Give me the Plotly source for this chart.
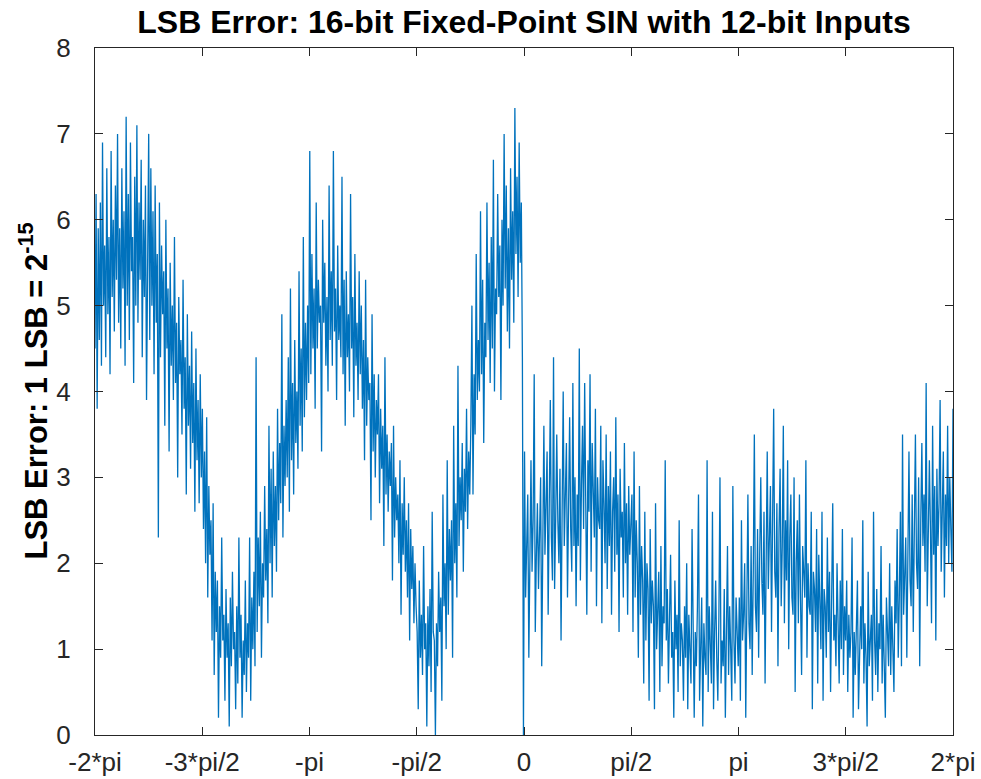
import numpy as np
import plotly.graph_objects as go

# LSB error, in order from -2*pi to 2*pi (pi/4 per block)
err_a = [4.5, 6.3, 3.8, 5.9, 4.6, 6.2, 4.3, 6.9, 5.0, 5.7, 4.4, 6.6, 4.9, 5.8, 4.2, 6.8, 5.1, 6.0, 4.7, 6.4,
         5.3, 7.0, 4.8, 5.9, 4.5, 6.6, 5.2, 6.1, 4.3, 7.2, 5.0, 6.3, 4.6, 6.9, 5.4, 5.8, 4.1, 6.5, 5.0, 7.1,
         4.8, 6.2, 5.3, 6.7, 4.4, 6.0, 5.1, 6.4, 3.9, 6.1]
err_b = [7.0, 4.6, 6.6, 5.0, 6.1, 4.2, 6.4, 4.8, 5.6, 2.3, 6.2, 4.4, 5.7, 4.9, 5.4, 3.6, 6.0, 4.5, 5.2, 3.3,
         5.5, 4.3, 5.0, 3.9, 5.8, 4.1, 4.8, 3.0, 5.1, 4.2, 4.6, 3.5, 5.3, 3.8, 4.4, 2.8, 4.9, 3.6, 4.3, 3.1,
         4.7, 3.4, 4.1, 2.6, 4.5, 3.2, 3.9, 2.7, 4.2, 3.0]
err_c = [3.8, 2.4, 3.3, 2.0, 3.7, 1.6, 2.9, 2.1, 2.5, 1.1, 2.7, 0.7, 1.9, 1.2, 1.8, 0.2, 1.5, 0.9, 2.3, 1.1,
         1.4, 0.4, 1.7, 0.9, 1.3, 0.1, 1.6, 0.8, 1.9, 1.0, 1.2, 0.3, 1.5, 0.6, 2.3, 0.9, 1.4, 0.2, 1.1, 0.7,
         1.8, 0.5, 1.3, 0.9, 2.3, 0.4, 1.6, 1.0, 1.9, 0.8]
err_d = [4.4, 1.2, 2.3, 1.5, 2.6, 0.9, 2.0, 1.6, 2.9, 1.8, 2.4, 1.3, 3.6, 2.0, 3.1, 1.6, 3.3, 2.2, 2.9, 1.9,
         3.8, 2.5, 3.4, 2.7, 4.9, 2.3, 3.6, 2.9, 3.9, 3.0, 4.4, 2.6, 5.2, 3.2, 4.1, 2.8, 4.6, 3.4, 4.0, 3.1,
         5.4, 3.6, 4.5, 3.3, 5.8, 3.7, 4.8, 3.9, 5.0, 4.1]
err_e = [6.8, 4.2, 5.6, 4.5, 5.2, 3.8, 6.2, 4.5, 5.3, 4.8, 5.0, 3.3, 6.0, 4.8, 5.5, 4.3, 5.1, 4.0, 6.4, 4.6,
         5.4, 4.3, 6.8, 4.7, 5.2, 3.9, 5.7, 4.6, 5.0, 4.4, 6.5, 4.2, 5.3, 3.6, 5.4, 4.4, 4.9, 4.0, 6.3, 4.5,
         5.1, 3.7, 5.6, 4.3, 4.8, 3.9, 5.4, 4.2, 5.0, 3.8]
err_f = [4.6, 3.2, 5.3, 3.6, 4.4, 3.9, 4.1, 2.5, 4.9, 3.3, 4.2, 3.0, 3.9, 3.5, 4.2, 2.7, 3.8, 3.1, 3.6, 2.2,
         4.4, 2.8, 3.5, 2.6, 3.3, 2.9, 3.4, 1.8, 3.6, 2.3, 3.0, 2.5, 2.8, 2.0, 3.2, 1.4, 2.7, 2.1, 3.0, 1.9,
         2.5, 1.6, 2.7, 1.1, 2.4, 1.7, 2.2, 1.3, 2.0, 1.5]
err_g = [1.2, 0.3, 1.8, 0.9, 1.4, 0.7, 2.2, 1.0, 1.3, 0.1, 1.5, 0.8, 1.7, 0.5, 2.6, 1.2, 1.1, 0.0, 1.3, 0.8,
         1.9, 1.2, 1.6, 0.4, 2.8, 1.5, 2.0, 1.0, 3.2, 1.4, 2.4, 1.8, 2.5, 0.9, 3.6, 2.0, 2.7, 1.6, 4.3, 2.2,
         3.0, 2.5, 3.4, 1.9, 3.1, 2.6, 3.8, 2.4, 3.3, 2.8]
err_h = [3.6, 5.0, 2.8, 4.2, 3.5, 5.6, 3.9, 4.6, 4.0, 6.1, 4.2, 5.3, 3.4, 4.8, 4.4, 6.2, 4.6, 5.5, 4.1, 5.8,
         4.5, 6.7, 4.0, 5.2, 4.9, 6.3, 5.1, 5.7, 3.9, 6.0, 5.0, 7.0, 5.2, 6.4, 4.7, 5.9, 4.5, 6.6, 5.3, 6.1,
         4.8, 7.3, 5.6, 6.5, 5.1, 6.9, 5.5, 6.2, 4.4, 0.0]
err_i = [3.3, 1.6, 2.4, 2.8, 0.9, 2.2, 3.2, 1.9, 2.5, 4.2, 1.2, 2.1, 2.7, 1.7, 2.3, 3.0, 0.8, 2.0, 3.6, 2.1,
         2.6, 3.3, 1.4, 2.4, 3.9, 2.3, 1.8, 4.4, 1.7, 2.5, 3.5, 2.5, 2.0, 3.1, 1.1, 2.6, 4.0, 2.2, 2.9, 3.4,
         1.6, 2.7, 3.7, 2.4, 1.9, 4.1, 2.2, 3.0, 1.5, 2.8]
err_j = [2.2, 4.5, 1.8, 2.9, 3.6, 2.4, 4.1, 2.7, 1.4, 3.2, 2.6, 4.2, 1.9, 3.4, 2.8, 2.3, 3.8, 1.5, 3.0, 2.5,
         2.4, 3.6, 1.3, 3.2, 2.7, 2.0, 3.5, 1.7, 2.9, 2.2, 3.3, 1.4, 2.6, 3.0, 1.9, 3.7, 2.1, 2.8, 1.2, 3.1,
         2.3, 2.6, 1.6, 3.4, 2.0, 2.7, 1.4, 2.9, 2.1, 2.4]
err_k = [2.8, 1.2, 3.3, 1.6, 2.5, 2.0, 0.9, 2.9, 1.4, 2.2, 1.8, 0.6, 2.6, 1.1, 2.0, 1.7, 0.4, 2.4, 1.3, 1.8,
         1.5, 0.3, 2.7, 1.0, 1.6, 1.9, 0.5, 2.2, 0.8, 1.5, 1.3, 3.2, 1.1, 1.7, 0.6, 1.4, 2.1, 0.9, 1.2, 0.2,
         1.8, 1.0, 1.4, 0.5, 2.5, 0.8, 1.3, 1.1, 0.4, 1.5]
err_l = [0.9, 2.0, 0.3, 1.4, 0.8, 0.6, 2.4, 1.0, 0.2, 1.2, 0.8, 1.5, 2.8, 0.4, 1.1, 1.6, 0.1, 1.3, 0.9, 0.7,
         3.2, 0.5, 1.5, 1.0, 0.6, 2.6, 0.3, 1.2, 1.8, 0.9, 0.4, 1.4, 3.0, 0.6, 1.1, 0.8, 1.7, 0.2, 1.3, 2.2,
         0.7, 1.5, 1.0, 0.4, 2.9, 1.1, 0.6, 1.6, 1.2, 0.8]
err_m = [1.6, 0.4, 2.5, 1.1, 1.4, 2.0, 0.2, 1.7, 2.8, 1.3, 1.0, 2.2, 0.7, 1.9, 3.5, 1.5, 1.2, 2.4, 0.9, 2.1,
         3.0, 1.8, 1.4, 2.6, 0.6, 2.0, 3.3, 1.7, 2.3, 2.9, 1.2, 2.2, 3.8, 1.9, 1.6, 2.7, 0.8, 2.4, 3.1, 1.5,
         2.2, 3.6, 1.3, 2.5, 1.8, 3.2, 1.0, 2.3, 2.8, 1.6]
err_n = [1.4, 3.0, 0.5, 2.0, 2.5, 1.3, 2.8, 1.6, 0.7, 2.2, 1.8, 1.6, 3.2, 0.9, 2.0, 1.5, 1.4, 2.6, 0.3, 1.9,
         1.7, 1.2, 2.4, 0.6, 2.1, 1.4, 1.0, 2.6, 0.4, 1.7, 1.5, 0.9, 2.3, 1.2, 1.9, 0.5, 1.6, 2.7, 1.1, 1.4,
         0.8, 2.0, 1.3, 0.6, 1.8, 1.0, 2.4, 0.7, 1.5, 1.1]
err_o = [1.8, 0.5, 1.4, 0.9, 1.2, 2.3, 0.2, 1.2, 0.7, 1.5, 1.8, 0.3, 1.0, 1.5, 1.0, 2.5, 0.6, 1.3, 0.9, 0.1,
         1.9, 0.8, 1.1, 1.4, 0.4, 2.6, 1.1, 0.7, 1.7, 0.5, 1.3, 1.0, 2.2, 0.6, 1.4, 0.9, 0.2, 1.6, 1.2, 0.8,
         2.0, 0.7, 1.5, 1.1, 0.5, 1.8, 1.3, 2.4, 0.9, 1.6]
err_p = [2.6, 0.8, 3.5, 1.4, 2.0, 2.3, 0.9, 1.8, 3.3, 1.8, 1.5, 2.8, 1.2, 2.4, 3.5, 2.0, 1.7, 3.0, 0.8, 2.5,
         3.4, 2.2, 2.8, 1.9, 4.1, 1.5, 2.6, 3.2, 2.4, 1.3, 3.6, 2.1, 2.9, 1.1, 3.1, 2.2, 2.7, 3.9, 1.9, 2.5,
         3.3, 1.6, 2.8, 2.2, 3.6, 2.0, 3.0, 2.4, 1.9, 3.8]

tick_vals = [-2*np.pi, -1.5*np.pi, -np.pi, -0.5*np.pi, 0, 0.5*np.pi, np.pi, 1.5*np.pi, 2*np.pi]
tick_text = ['-2*pi', '-3*pi/2', '-pi', '-pi/2', '0', 'pi/2', 'pi', '3*pi/2', '2*pi']

err = (err_a + err_b + err_c + err_d + err_e + err_f + err_g + err_h +
       err_i + err_j + err_k + err_l + err_m + err_n + err_o + err_p)
x = np.linspace(-2*np.pi, 2*np.pi, len(err))

fnt = 'Liberation Sans, Arial, Helvetica, sans-serif'
axcol = '#262626'

fig = go.Figure(go.Scatter(x=x, y=err, mode='lines',
                           line=dict(color='#0072BD', width=1.3),
                           showlegend=False))

fig.update_layout(
    width=981, height=779,
    margin=dict(l=95, r=28, t=48, b=44),
    paper_bgcolor='white', plot_bgcolor='white',
    font=dict(family=fnt, size=26, color=axcol),
    title=dict(text='<b>LSB Error: 16-bit Fixed-Point SIN with 12-bit Inputs</b>',
               x=0.5, xref='paper', xanchor='center',
               y=1 - 22/779, yref='container', yanchor='middle',
               font=dict(family=fnt, size=32, color='black')),
)
fig.update_xaxes(range=[-2*np.pi, 2*np.pi], tickvals=tick_vals, ticktext=tick_text,
                 showgrid=False, zeroline=False, showline=True, linecolor=axcol,
                 linewidth=1, mirror='ticks', ticks='inside', ticklen=8,
                 tickcolor=axcol, tickfont=dict(size=26, color=axcol),
                 ticklabelstandoff=4, automargin=False)
fig.update_yaxes(range=[0, 8], dtick=1, tick0=0,
                 showgrid=False, zeroline=False, showline=True, linecolor=axcol,
                 linewidth=1, mirror='ticks', ticks='inside', ticklen=8,
                 tickcolor=axcol, tickfont=dict(size=26, color=axcol),
                 ticklabelstandoff=18, automargin=False)

fig.add_annotation(text='<b>LSB Error: 1 LSB = 2<sup>-15</sup></b>',
                   xref='paper', yref='paper', x=(33 - 95)/858, y=0.5,
                   xanchor='center', yanchor='middle', textangle=-90,
                   showarrow=False, font=dict(family=fnt, size=31, color='black'))

fig.write_html("out.html", config={'displayModeBar': False},
               post_script="document.body.style.margin='0';")
